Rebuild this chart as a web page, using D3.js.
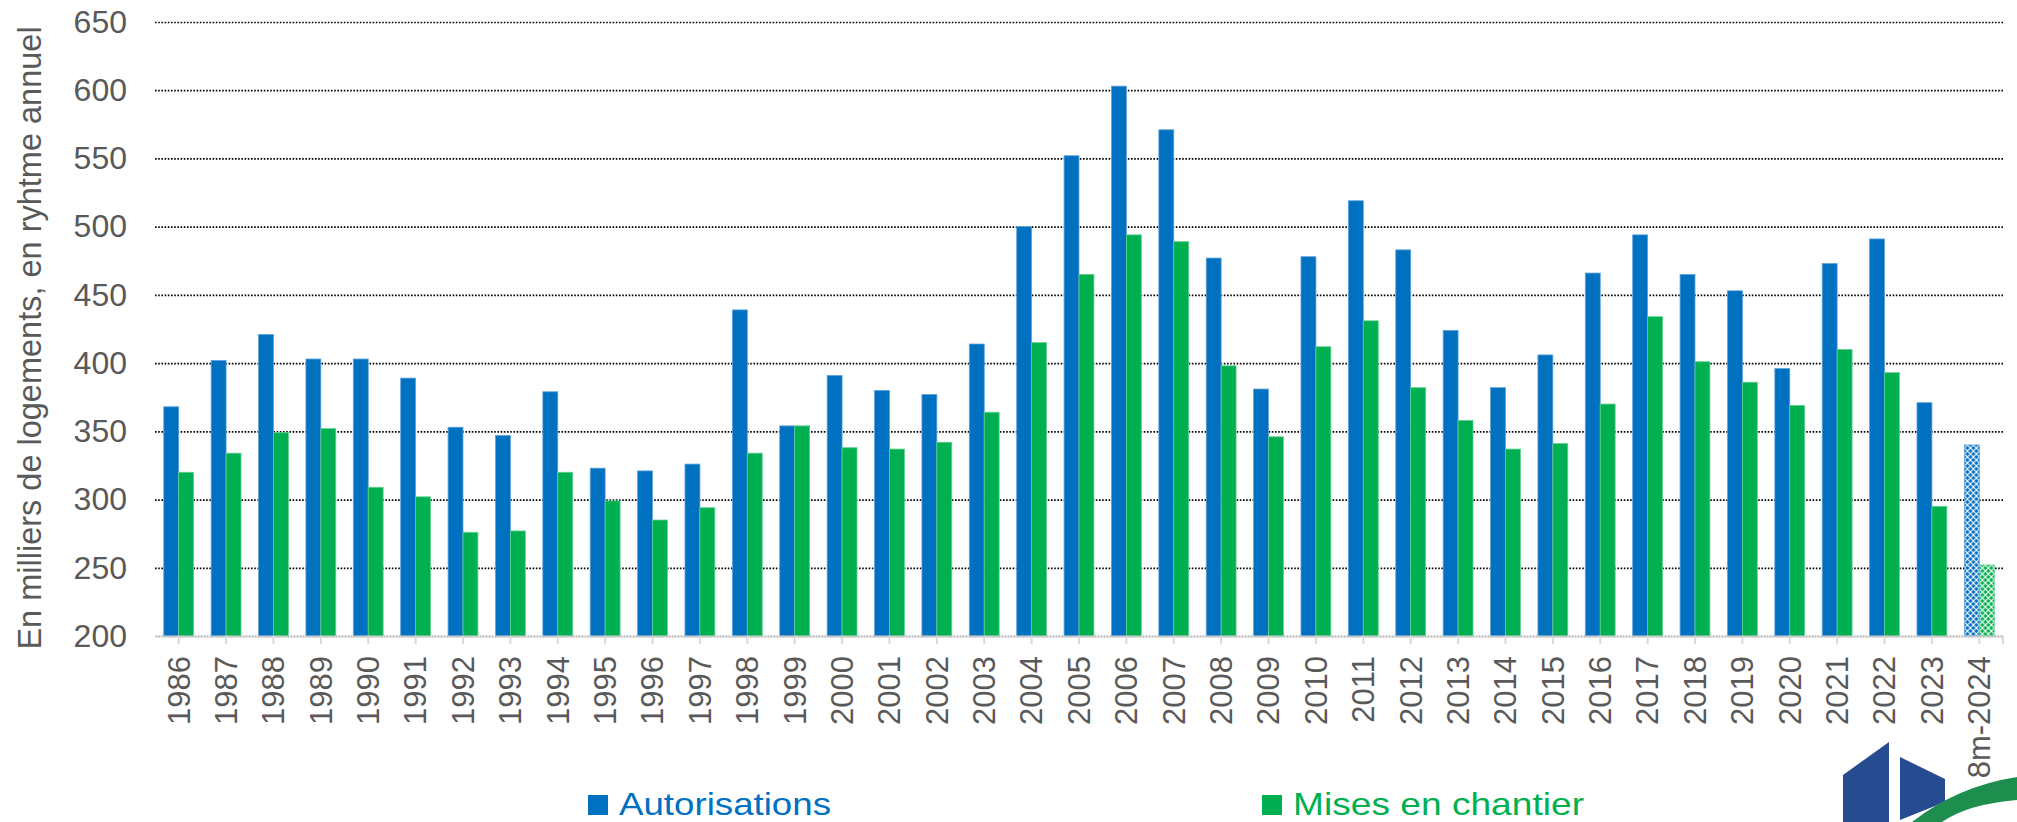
<!DOCTYPE html>
<html>
<head>
<meta charset="utf-8">
<script src="https://cdn.jsdelivr.net/npm/d3@7"></script>
<style>
  body { margin: 0; background: #fff; }
  svg { display: block; font-family: 'Liberation Sans', Arial, sans-serif; }
</style>
</head>
<body>
<div class="chartPlaceholder"></div>
<script>
const FULL_WIDTH = 2017;
const FULL_HEIGHT = 822;
const MARGINS = { TOP: 22, LEFT: 155, BOTTOM: 186, RIGHT: 14 };
const WIDTH = FULL_WIDTH - MARGINS.LEFT - MARGINS.RIGHT;
const HEIGHT = FULL_HEIGHT - MARGINS.TOP - MARGINS.BOTTOM;

const BLUE = '#0070C0';
const GREEN = '#00B050';
const TEXT_GREY = '#595959';

// data
const years = ['1986', '1987', '1988', '1989', '1990', '1991', '1992', '1993', '1994', '1995',
    '1996', '1997', '1998', '1999', '2000', '2001', '2002', '2003', '2004', '2005',
    '2006', '2007', '2008', '2009', '2010', '2011', '2012', '2013', '2014', '2015',
    '2016', '2017', '2018', '2019', '2020', '2021', '2022', '2023', '8m-2024'];
const autorisations = [368, 402, 421, 403, 403, 389, 353, 347, 379, 323,
    321, 326, 439, 354, 391, 380, 377, 414, 500, 552,
    603, 571, 477, 381, 478, 519, 483, 424, 382, 406,
    466, 494, 465, 453, 396, 473, 491, 371, 340];
const misesEnChantier = [320, 334, 349, 352, 309, 302, 276, 277, 320, 299,
    285, 294, 334, 354, 338, 337, 342, 364, 415, 465,
    494, 489, 398, 346, 412, 431, 382, 358, 337, 341,
    370, 434, 401, 386, 369, 410, 393, 295, 252];
const seriesNames = ['Autorisations', 'Mises en chantier'];
const yTicks = [200, 250, 300, 350, 400, 450, 500, 550, 600, 650];
const partialYear = '8m-2024';

let root = d3
    .select('.chartPlaceholder')
    .append('svg')
    .attr('width', FULL_WIDTH)
    .attr('height', FULL_HEIGHT);

// hatched fill for the partial year
let defs = root.append('defs');
[['hatchBlue', BLUE], ['hatchGreen', GREEN]].forEach(([id, color]) => {
    let p = defs.append('pattern')
        .attr('id', id)
        .attr('patternUnits', 'userSpaceOnUse')
        .attr('width', 6)
        .attr('height', 6);
    p.append('rect').attr('width', 6).attr('height', 6).attr('fill', color);
    p.append('path')
        .attr('d', 'M0,0 L6,6 M6,0 L0,6')
        .attr('stroke', '#fff')
        .attr('stroke-width', 1.1);
});

let svg = root.append('g')
    .attr('transform', `translate(${MARGINS.LEFT}, ${MARGINS.TOP})`);

// 1. scales
let x0 = d3.scaleBand()
    .domain(years)
    .range([0, WIDTH])
    .paddingInner(0.37)
    .paddingOuter(0.185);

let x1 = d3.scaleBand()
    .domain(seriesNames)
    .range([0, x0.bandwidth()]);

let y = d3.scaleLinear()
    .domain([200, 650])
    .range([HEIGHT, 0]);

// 2. y axis + grid
let yAxis = d3.axisLeft(y)
    .tickValues(yTicks)
    .tickSizeInner(-WIDTH)
    .tickSizeOuter(0)
    .tickPadding(28);

let yAxisG = svg.append('g').attr('id', 'y-axis').call(yAxis);
yAxisG.select('.domain').remove();
yAxisG.selectAll('.tick line')
    .attr('stroke', '#000')
    .attr('stroke-width', 1.7)
    .attr('stroke-dasharray', '1.6 1.6')
    .filter(d => d === 200).remove();
yAxisG.selectAll('.tick text')
    .attr('fill', TEXT_GREY)
    .style('font-size', '32px');

// 3. bars
let rows = years.map((year, i) => ({
    year: year,
    values: [autorisations[i], misesEnChantier[i]]
}));

let groups = svg.selectAll('.year')
    .data(rows)
    .enter()
    .append('g')
    .attr('class', 'year')
    .attr('transform', d => `translate(${x0(d.year)}, 0)`);

groups.selectAll('rect')
    .data(d => d.values.map((v, k) => ({ year: d.year, key: seriesNames[k], value: v })))
    .enter()
    .append('rect')
    .attr('x', d => x1(d.key))
    .attr('y', d => y(d.value))
    .attr('width', x1.bandwidth())
    .attr('height', d => HEIGHT - y(d.value))
    .attr('fill', d => {
        if (d.year === partialYear) {
            return d.key === seriesNames[0] ? 'url(#hatchBlue)' : 'url(#hatchGreen)';
        }
        return d.key === seriesNames[0] ? BLUE : GREEN;
    })
    .attr('stroke', d => d.key === seriesNames[0] ? '#5FA3DB' : '#5FD08F')
    .attr('stroke-width', 0.8);

// 4. x axis
let xAxis = d3.axisBottom(x0)
    .tickSizeInner(8)
    .tickSizeOuter(0);

let xAxisG = svg.append('g')
    .attr('id', 'x-axis')
    .attr('transform', `translate(0, ${HEIGHT})`)
    .call(xAxis);

xAxisG.select('.domain')
    .attr('stroke', '#BFBFBF')
    .attr('stroke-width', 2.5)
    .attr('stroke-dasharray', '2 1');

xAxisG.selectAll('.tick line')
    .attr('stroke', '#D9D9D9')
    .attr('stroke-width', 2);

xAxisG.append('line')
    .attr('x1', WIDTH).attr('x2', WIDTH)
    .attr('y1', 0).attr('y2', 8)
    .attr('stroke', '#D9D9D9')
    .attr('stroke-width', 2);

xAxisG.selectAll('.tick text')
    .attr('fill', TEXT_GREY)
    .style('font-size', '31px')
    .style('text-anchor', 'end')
    .attr('transform', 'rotate(-90)')
    .attr('x', -20)
    .attr('y', 0)
    .attr('dy', '0.35em');

// 5. axis title
root.append('text')
    .attr('transform', 'translate(41, 338) rotate(-90)')
    .attr('text-anchor', 'middle')
    .attr('fill', TEXT_GREY)
    .style('font-size', '32.5px')
    .text('En milliers de logements, en ryhtme annuel');

// 6. legend
let legendItems = [
    { name: seriesNames[0], color: BLUE, x: 588, len: 212 },
    { name: seriesNames[1], color: GREEN, x: 1262, len: 291 }
];

let legend = root.selectAll('.legend')
    .data(legendItems)
    .enter()
    .append('g')
    .attr('class', 'legend')
    .attr('transform', d => `translate(${d.x}, 795)`);

legend.append('rect')
    .attr('width', 20)
    .attr('height', 20)
    .attr('fill', d => d.color);

legend.append('text')
    .attr('x', 31)
    .attr('y', 20)
    .attr('fill', d => d.color)
    .attr('textLength', d => d.len)
    .attr('lengthAdjust', 'spacingAndGlyphs')
    .style('font-size', '32px')
    .text(d => d.name);

// 7. logo (bottom right corner)
let logo = root.append('g').attr('class', 'logo');
logo.append('path')
    .attr('d', 'M1843,775 L1889,742 L1889,822 L1843,822 Z')
    .attr('fill', '#264B91');
logo.append('path')
    .attr('d', 'M1900,757 L1945,779 L1945,802 L1900,820 Z')
    .attr('fill', '#264B91');
logo.append('path')
    .attr('d', 'M1912,822 Q1958,786 2017,777 L2017,800 Q1968,804 1942,822 Z')
    .attr('fill', '#1E8E4E');
</script>
</body>
</html>
